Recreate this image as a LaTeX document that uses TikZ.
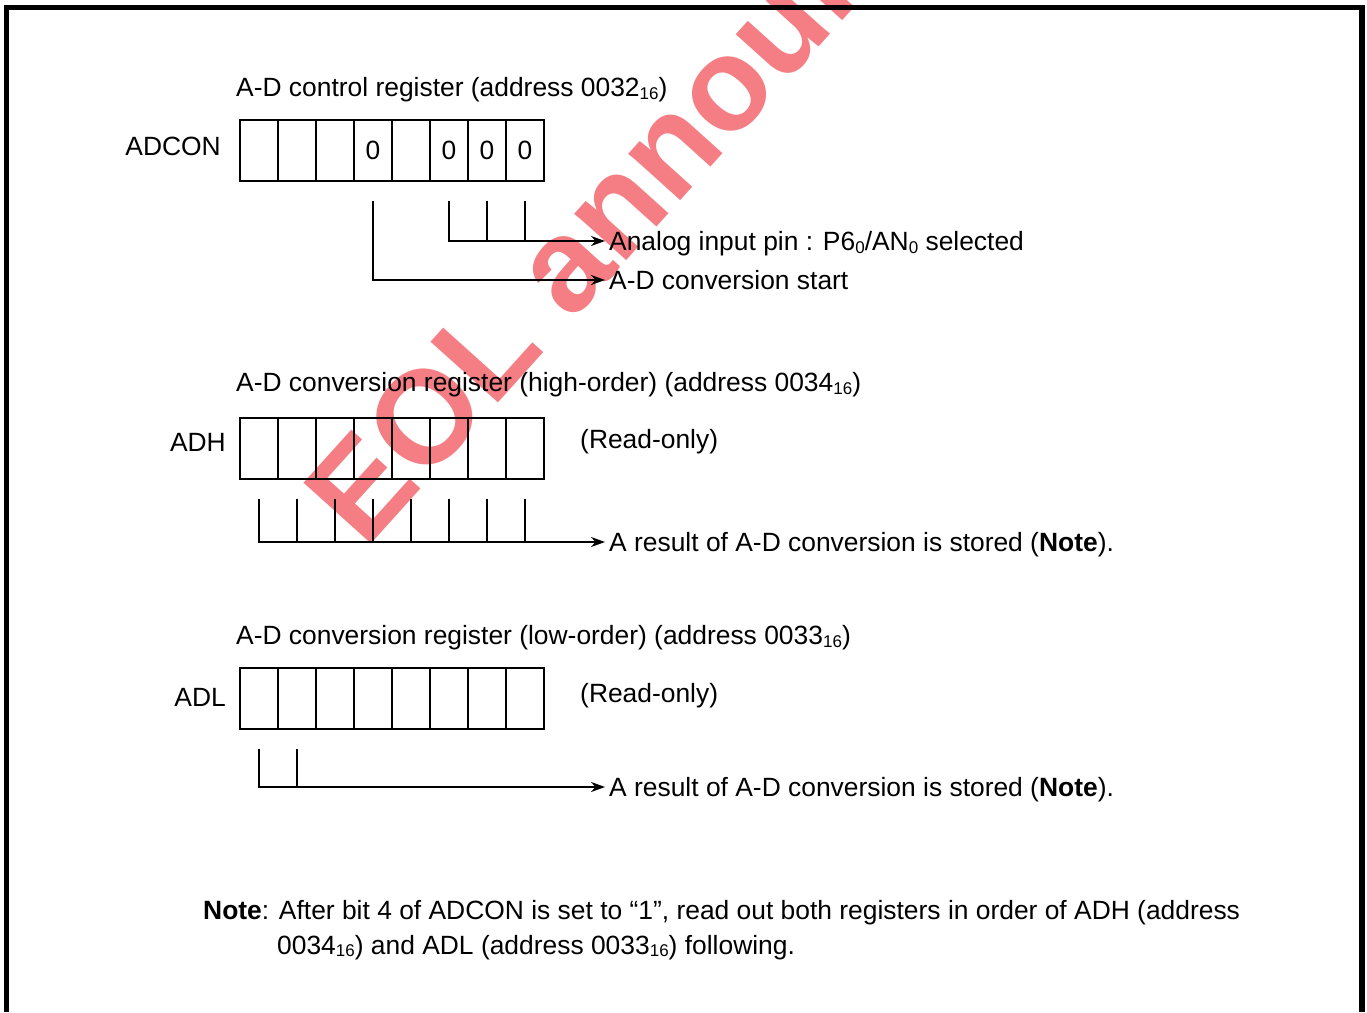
\documentclass[tikz,border=0pt]{standalone}
\usepackage{fontspec}
\setmainfont{Liberation Sans}
\usetikzlibrary{arrows.meta,positioning}
\definecolor{StampRed}{RGB}{244,126,131}
\newcommand{\lowidx}[1]{\raisebox{-0.1em}{\fontsize{17}{17}\selectfont #1}}

\begin{document}
\begin{tikzpicture}[
  x=1pt,y=-1pt,
  every node/.style={font=\fontsize{26.4}{32}\selectfont,inner sep=0pt},
  bitcell/.style={draw,line width=2pt,minimum width=38pt,minimum height=61pt,outer sep=0pt},
  regtitle/.style={anchor=west},
  regname/.style={anchor=east},
  result/.style={anchor=west,inner xsep=4pt,text height=19pt,text depth=0pt},
  wire/.style={line width=2pt},
  feed/.style={wire,-{Stealth[length=14pt,width=10pt]}}
]
\useasboundingbox (0,0) rectangle (1367,1012);
\begin{scope}
\clip (0,0) rectangle (1367,1012);
\node[rotate=48,anchor=base west,text=StampRed,font=\fontsize{132}{132}\selectfont\bfseries] (stamp) at (365,551) {EOL announced};
\end{scope}
\draw[line width=5.5pt] (6.5,1012) -- (6.5,7.5) -- (1362,7.5) -- (1362,1012);

% A-D control register
\node[regtitle] (adcontitle) at (236,90) {A-D control register (address 0032\lowidx{16})};
\node[regname] (adconname) at (221,146) {ADCON};
\foreach \v [count=\i from 0] in {{},{},{},0,{},0,0,0} {
  \pgfmathtruncatemacro\b{7-\i}
  \node[bitcell] (adcon\b) at (259+38*\i,150) {\v};
}
\node[result] (ainsel) at (605,241) {Analog input pin : P6\lowidx{0}/AN\lowidx{0} selected};
\node[result] (adcstart) at (605,280) {A-D conversion start};
\draw[feed] ([yshift=-20pt]adcon2.south) |- (ainsel.west);
\foreach \b in {1,0}
  \draw[wire] ([yshift=-20pt]adcon\b.south) -- (adcon\b |- ainsel.west);
\draw[feed] ([yshift=-20pt]adcon4.south) |- (adcstart.west);

% A-D conversion register (high-order)
\node[regtitle] (adhtitle) at (236,385) {A-D conversion register (high-order) (address 0034\lowidx{16})};
\node[regname] (adhname) at (226,442) {ADH};
\foreach \i in {0,...,7} {
  \pgfmathtruncatemacro\b{7-\i}
  \node[bitcell] (adh\b) at (259+38*\i,448) {};
}
\node[anchor=west] (adhro) at (580,442) {(Read-only)};
\node[result] (adhres) at (605,542) {A result of A-D conversion is stored (\textbf{Note}).};
\draw[feed] ([yshift=-20pt]adh7.south) |- (adhres.west);
\foreach \b in {6,...,0}
  \draw[wire] ([yshift=-20pt]adh\b.south) -- (adh\b |- adhres.west);

% A-D conversion register (low-order)
\node[regtitle] (adltitle) at (236,638) {A-D conversion register (low-order) (address 0033\lowidx{16})};
\node[regname] (adlname) at (226,697) {ADL};
\foreach \i in {0,...,7} {
  \pgfmathtruncatemacro\b{7-\i}
  \node[bitcell] (adl\b) at (259+38*\i,698.5) {};
}
\node[anchor=west] (adlro) at (580,696) {(Read-only)};
\node[result] (adlres) at (605,787) {A result of A-D conversion is stored (\textbf{Note}).};
\draw[feed] ([yshift=-20pt]adl7.south) |- (adlres.west);
\draw[wire] ([yshift=-20pt]adl6.south) -- (adl6 |- adlres.west);

% note
\node[anchor=base west] (note1) at (203,919) {\textbf{Note}: After bit 4 of ADCON is set to “1”, read out both registers in order of ADH (address};
\node[anchor=base west] (note2) at (277,954) {0034\lowidx{16}) and ADL (address 0033\lowidx{16}) following.};
\end{tikzpicture}
\end{document}
